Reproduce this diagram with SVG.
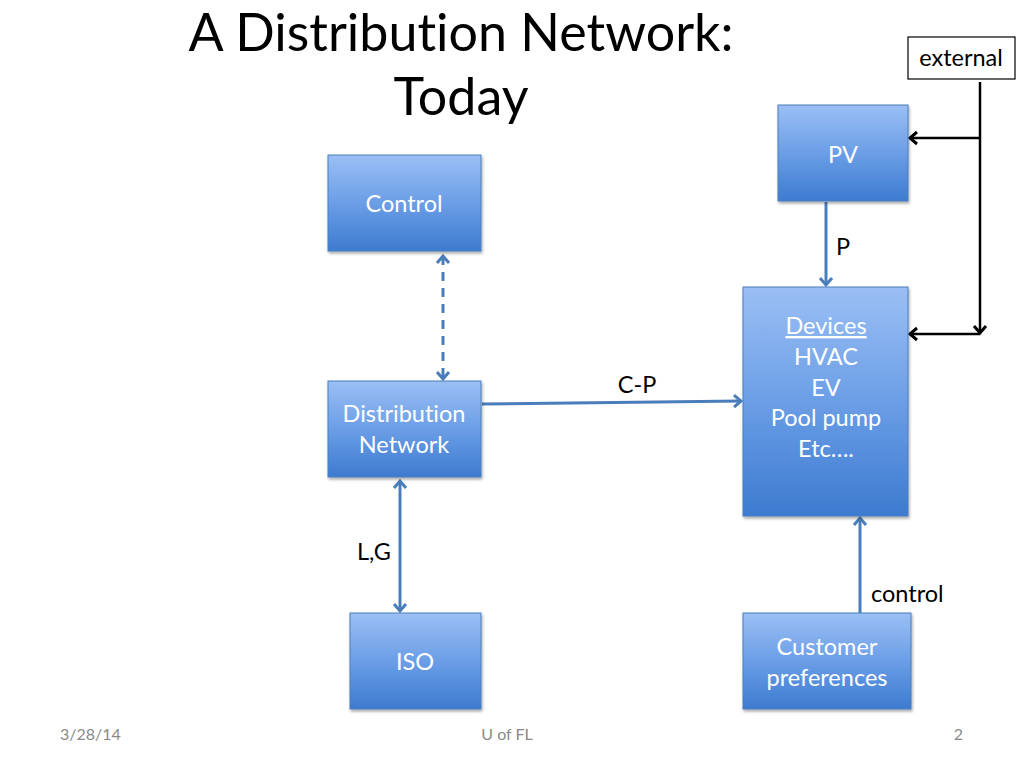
<svg xmlns="http://www.w3.org/2000/svg" width="1024" height="768" viewBox="0 0 1024 768">
<defs>
<linearGradient id="g" x1="0" y1="0" x2="0" y2="1">
<stop offset="0" stop-color="#9bbff5"/>
<stop offset="0.5" stop-color="#6b9ee6"/>
<stop offset="1" stop-color="#3d7bd0"/>
</linearGradient>
<filter id="sh" x="-10%" y="-10%" width="130%" height="130%">
<feGaussianBlur in="SourceAlpha" stdDeviation="1.5"/>
<feOffset dx="1" dy="2"/>
<feComponentTransfer><feFuncA type="linear" slope="0.35"/></feComponentTransfer>
<feMerge><feMergeNode/><feMergeNode in="SourceGraphic"/></feMerge>
</filter>
<marker id="ab" markerUnits="userSpaceOnUse" markerWidth="16" markerHeight="16" viewBox="0 0 16 16" refX="12" refY="8" orient="auto-start-reverse">
<path d="M5,2 L12,8 L5,14" fill="none" stroke="#4a7ebb" stroke-width="3"/>
</marker>
<marker id="ak" markerUnits="userSpaceOnUse" markerWidth="16" markerHeight="16" viewBox="0 0 16 16" refX="12" refY="8" orient="auto-start-reverse">
<path d="M5,2 L12,8 L5,14" fill="none" stroke="#000" stroke-width="3"/>
</marker>
</defs>
<style>
text{font-variant-ligatures:none}
.box{fill:url(#g);stroke:#4a7ebb;stroke-width:1;filter:url(#sh)}
.bt{font-family:Lato,"Open Sans","Liberation Sans",sans-serif;font-size:23.5px;fill:#fff;text-anchor:middle}
.lbl{font-family:Lato,"Open Sans","Liberation Sans",sans-serif;font-size:23.5px;fill:#000}
.blue{stroke:#4a7ebb;stroke-width:3;fill:none}
.blk{stroke:#000;stroke-width:2.5;fill:none}
.ft{font-family:Lato,"Open Sans","Liberation Sans",sans-serif;font-size:16px;fill:#8a8a8a}
</style>
<rect width="1024" height="768" fill="#fff"/>
<g id="title" font-family="Lato,'Open Sans','Liberation Sans',sans-serif" font-size="52" fill="#000" text-anchor="middle">
<text x="461" y="51">A Distribution Network:</text>
<text x="461" y="115">Today</text>
</g>
<g id="connectors">
<line class="blue" x1="443" y1="256" x2="443" y2="379" stroke-dasharray="9,7" marker-start="url(#ab)" marker-end="url(#ab)"/>
<line class="blue" x1="482" y1="404" x2="741" y2="401" marker-end="url(#ab)"/>
<line class="blue" x1="400" y1="481" x2="400" y2="611" marker-start="url(#ab)" marker-end="url(#ab)"/>
<line class="blue" x1="826" y1="202" x2="826" y2="285" marker-end="url(#ab)"/>
<line class="blue" x1="860" y1="613" x2="860" y2="518" marker-end="url(#ab)"/>
<line class="blk" x1="980" y1="82" x2="980" y2="333" marker-end="url(#ak)"/>
<line class="blk" x1="980" y1="138" x2="910" y2="138" marker-end="url(#ak)"/>
<line class="blk" x1="980" y1="334" x2="910" y2="334" marker-end="url(#ak)"/>
<text class="lbl" x="637" y="393" text-anchor="middle">C-P</text>
<text class="lbl" x="357" y="560">L,G</text>
<text class="lbl" x="836" y="255">P</text>
<text class="lbl" x="871" y="602">control</text>
</g>
<g id="external">
<rect x="908" y="37" width="107" height="42" fill="#fff" stroke="#000" stroke-width="1.2"/>
<text class="lbl" x="961" y="66" text-anchor="middle">external</text>
</g>
<g id="control">
<rect class="box" x="328" y="155" width="153" height="96"/>
<text class="bt" x="404" y="212">Control</text>
</g>
<g id="distribution">
<rect class="box" x="328" y="381" width="153" height="96"/>
<text class="bt" x="404" y="422">Distribution</text>
<text class="bt" x="404" y="453">Network</text>
</g>
<g id="iso">
<rect class="box" x="350" y="613" width="131" height="96"/>
<text class="bt" x="415" y="670">ISO</text>
</g>
<g id="pv">
<rect class="box" x="778" y="105" width="130" height="96"/>
<text class="bt" x="843" y="163">PV</text>
</g>
<g id="devices">
<rect class="box" x="743" y="287" width="165" height="229"/>
<text class="bt" x="826" y="334" text-decoration="underline">Devices</text>
<text class="bt" x="826" y="365">HVAC</text>
<text class="bt" x="826" y="396">EV</text>
<text class="bt" x="826" y="426">Pool pump</text>
<text class="bt" x="826" y="457">Etc….</text>
</g>
<g id="customer">
<rect class="box" x="743" y="613" width="168" height="96"/>
<text class="bt" x="827" y="655">Customer</text>
<text class="bt" x="827" y="686">preferences</text>
</g>
<g id="footer">
<text class="ft" x="60" y="740">3/28/14</text>
<text class="ft" x="507" y="740" text-anchor="middle">U of FL</text>
<text class="ft" x="963" y="740" text-anchor="end">2</text>
</g>
</svg>
